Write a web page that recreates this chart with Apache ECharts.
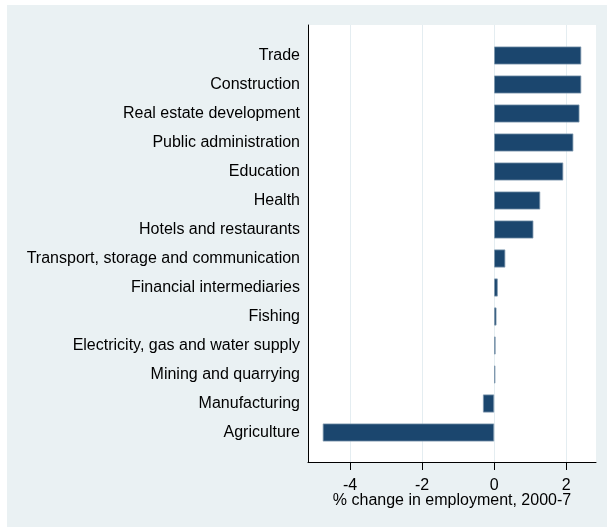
<!DOCTYPE html>
<html>
<head>
<meta charset="utf-8">
<script src="https://cdn.jsdelivr.net/npm/echarts@6/dist/echarts.min.js"></script>
<style>
html,body{margin:0;padding:0;background:#fff;}
#chart{width:607px;height:527px;}
</style>
</head>
<body>
<div id="chart"></div>
<script>
const categories = ['Trade','Construction','Real estate development','Public administration','Education','Health','Hotels and restaurants','Transport, storage and communication','Financial intermediaries','Fishing','Electricity, gas and water supply','Mining and quarrying','Manufacturing','Agriculture'];
const values = [2.42, 2.42, 2.37, 2.20, 1.92, 1.28, 1.09, 0.31, 0.10, 0.065, 0.04, 0.035, -0.31, -4.76];
const xTicks = [-4, -2, 0, 2];
const xTitle = '% change in employment, 2000-7';

const FONT = '"Liberation Sans", Arial, sans-serif';
const FS = 16;
const chart = echarts.init(document.getElementById('chart'), null, {renderer: 'canvas'});
const xMin = -5.17, xMax = 2.83;
chart.setOption({
  animation: false,
  backgroundColor: '#ffffff',
  graphic: [{
    type: 'rect', z: -10, silent: true,
    shape: {x: 7, y: 5, width: 600, height: 522},
    style: {fill: '#eaf1f3'}
  }],
  grid: [
    {left: 308, right: 11, top: 25, bottom: 65, show: true, backgroundColor: '#ffffff', borderWidth: 0, containLabel: false, outerBoundsMode: 'none'},
    {left: 308, right: 11, top: 41, height: 406, containLabel: false, outerBoundsMode: 'none'}
  ],
  xAxis: [
    {
      gridIndex: 0, type: 'value', min: xMin, max: xMax,
      axisLine: {show: true, onZero: false, lineStyle: {color: '#000', width: 1}},
      axisTick: {show: true, length: 8, customValues: xTicks, lineStyle: {color: '#000'}},
      axisLabel: {customValues: xTicks, color: '#000', fontFamily: FONT, fontSize: FS, margin: 16,
        formatter: v => String(v)},
      splitLine: {show: true, lineStyle: {color: '#e4edf1', width: 1}},
      name: xTitle, nameLocation: 'middle', nameGap: 31, nameMoveOverlap: false,
      nameTextStyle: {color: '#000', fontFamily: FONT, fontSize: FS}
    },
    {
      gridIndex: 1, type: 'value', min: xMin, max: xMax, show: false,
      splitLine: {show: false}
    }
  ],
  yAxis: [
    {
      gridIndex: 0, type: 'value', min: 0, max: 1,
      axisLine: {show: true, onZero: false, lineStyle: {color: '#000', width: 1}},
      axisTick: {show: false}, axisLabel: {show: false}, splitLine: {show: false}
    },
    {
      gridIndex: 1, type: 'category', data: categories, inverse: true,
      axisLine: {show: false}, axisTick: {show: false}, splitLine: {show: false},
      axisLabel: {color: '#000', fontFamily: FONT, fontSize: FS, margin: 8, interval: 0}
    }
  ],
  series: [{
    type: 'bar', xAxisIndex: 1, yAxisIndex: 1,
    data: values, barWidth: 18,
    itemStyle: {color: '#1b466e', borderColor: '#7d97ad', borderWidth: 0.8}
  }]
});
</script>
</body>
</html>
